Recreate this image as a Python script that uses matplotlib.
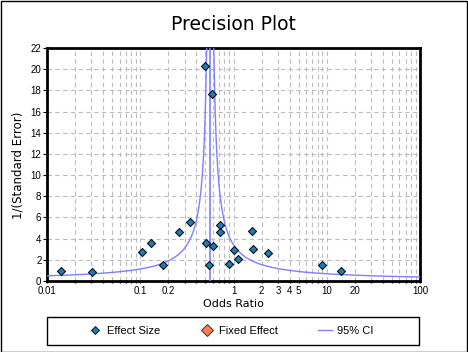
import numpy as np
import matplotlib
matplotlib.use("Agg")
import matplotlib.pyplot as plt
from matplotlib.lines import Line2D
from matplotlib.patches import Rectangle

# ---- data ----
odds_ratio = [0.0143, 0.0307, 0.105, 0.131, 0.177, 0.262, 0.344, 0.498, 0.591,
              0.510, 0.596, 0.549, 0.721, 0.721, 1.00, 0.90, 1.12, 1.56, 1.63,
              2.37, 8.9, 14.2]
precision = [0.91, 0.82, 2.72, 3.58, 1.49, 4.63, 5.58, 20.3, 17.7,
             3.58, 3.33, 1.49, 5.30, 4.63, 2.91, 1.62, 2.06, 4.72, 3.01,
             2.63, 1.49, 0.91]
fixed_effect = 0.563
xtick_vals = [0.01, 0.1, 0.2, 1, 2, 3, 4, 5, 10, 20, 100]
xtick_labels = ["0.01", "0.1", "0.2", "1", "2", "3", "4", "5", "10", "20", "100"]
ytick_vals = list(range(0, 23, 2))

W, H = 468, 352
fig = plt.figure(figsize=(W / 100, H / 100), dpi=100)
fig.patch.set_facecolor("white")

L, R, T, B = 47, 420, 48, 281
ax = fig.add_axes([L / W, 1 - B / H, (R - L) / W, (B - T) / H])

tick_font = "Liberation Sans"
ci_color = "#7F7FFF"
pt_color = "#1A7DB5"

# 95% CI funnel around fixed effect
p = np.linspace(0.3, 30, 3000)
lo = fixed_effect * np.exp(-1.96 / p)
hi = fixed_effect * np.exp(1.96 / p)
ax.plot(lo, p, color=ci_color, lw=1, zorder=3)
ax.plot(hi, p, color=ci_color, lw=1, zorder=3)
ax.axvline(fixed_effect, color=ci_color, lw=1.2, zorder=3)

ax.scatter(odds_ratio, precision, marker="D", s=17, facecolor=pt_color,
           edgecolor="black", linewidth=0.7, zorder=5)

ax.set_xscale("log")
ax.set_xlim(0.01, 100)
ax.set_ylim(0, 22)

ax.set_xticks(xtick_vals)
ax.set_xticklabels(xtick_labels, fontfamily=tick_font, fontsize=7)
minor = [m * 10.0 ** e for e in range(-2, 2) for m in range(2, 10)]
ax.set_xticks([v for v in minor if v not in xtick_vals], minor=True)
ax.xaxis.set_minor_formatter(matplotlib.ticker.NullFormatter())
ax.set_yticks(ytick_vals)
ax.set_yticklabels([str(v) for v in ytick_vals], fontfamily=tick_font, fontsize=7)

ax.tick_params(axis="x", which="both", direction="out", length=1.5, width=1, pad=2)
ax.tick_params(axis="y", which="both", direction="out", length=3, width=0.8, pad=1)

grid_kw = dict(color="#BDBDBD", linestyle=(0, (4, 3)), linewidth=0.8)
ax.grid(True, which="major", axis="both", **grid_kw)
ax.grid(True, which="minor", axis="x", **grid_kw)
ax.set_axisbelow(True)

for s in ax.spines.values():
    s.set_linewidth(2)
    s.set_color("black")

# Texts
fig.text(233.5 / W, 1 - 30 / H, "Precision Plot", ha="center", va="baseline",
         fontsize=13.5, fontfamily="DejaVu Sans")
fig.text(233.7 / W, 1 - 307 / H, "Odds Ratio", ha="center", va="baseline",
         fontsize=8, fontfamily="DejaVu Sans")
fig.text(18 / W, 1 - 165 / H, "1/(Standard Error)", ha="center", va="center",
         rotation=90, fontsize=8.5, fontfamily="DejaVu Sans")

# Legend
handles = [
    Line2D([], [], marker="D", linestyle="none", markersize=4.2,
           markerfacecolor=pt_color, markeredgecolor="black", markeredgewidth=0.6),
    Line2D([], [], marker="D", linestyle="none", markersize=6,
           markerfacecolor="#FF7F50", markeredgecolor="#333333", markeredgewidth=0.7),
    Line2D([], [], color=ci_color, lw=1),
]
leg = fig.legend(handles, ["Effect Size", "Fixed Effect", "95% CI"],
                 loc="center", bbox_to_anchor=(231 / W, 1 - 331 / H), ncol=3,
                 frameon=False, prop={"family": tick_font, "size": 8},
                 handlelength=1.2, handletextpad=0.5, columnspacing=3.6)
fig.patches.append(Rectangle((47 / W, 1 - 345 / H), (419 - 47) / W, 28 / H,
                             transform=fig.transFigure, fill=False,
                             edgecolor="black", linewidth=1))
# Figure border
fig.patches.append(Rectangle((0.5 / W, 0.5 / H), (W - 1.5) / W, (H - 1.5) / H,
                             transform=fig.transFigure, fill=False,
                             edgecolor="black", linewidth=1))

fig.savefig("out.png", dpi=100)
